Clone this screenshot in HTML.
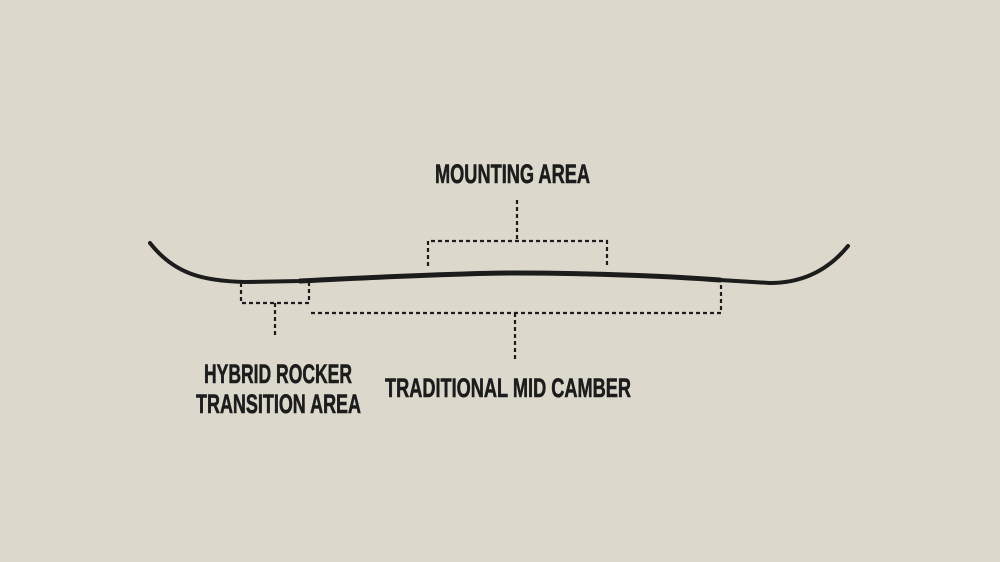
<!DOCTYPE html>
<html><head><meta charset="utf-8"><style>
html,body{margin:0;padding:0;background:#dcd8cb;}
svg{display:block;}
text{font-family:"Liberation Sans Narrow","Liberation Sans",sans-serif;font-weight:bold;fill:#1c1c1c;stroke:#1c1c1c;stroke-width:0.6px;font-size:27px;}
</style></head><body>
<svg width="1000" height="562" viewBox="0 0 1000 562">
<rect width="1000" height="562" fill="#dcd8cb"/>
<g fill="none" stroke="#1c1c1c" stroke-width="2.2" stroke-dasharray="4,3">
<path d="M517 200 V241 M428 266 V241 H607 V266"/>
<path d="M241 283 V303 H309 V283 M275 303 V338"/>
<path d="M311 313 H721 V282 M515 313 V362"/>
</g>
<path d="M150 243 C175 275 205 281 245 282 L300 281 C400 276 470 273 517 273 C600 273 680 277 720 280 L770 283 C805 283 830 268 848 246" fill="none" stroke="#1c1c1c" stroke-width="4" stroke-linecap="round"/>
<path d="M300 281 C400 276 470 273 517 273 C600 273 680 277 720 280" fill="none" stroke="#1c1c1c" stroke-width="5" stroke-linecap="round"/>
<text x="435" y="183" textLength="155" lengthAdjust="spacingAndGlyphs">MOUNTING AREA</text>
<text x="204" y="383" textLength="148" lengthAdjust="spacingAndGlyphs">HYBRID ROCKER</text>
<text x="196" y="413" textLength="165" lengthAdjust="spacingAndGlyphs">TRANSITION AREA</text>
<text x="385" y="397" textLength="246" lengthAdjust="spacingAndGlyphs">TRADITIONAL MID CAMBER</text>
</svg>
</body></html>
